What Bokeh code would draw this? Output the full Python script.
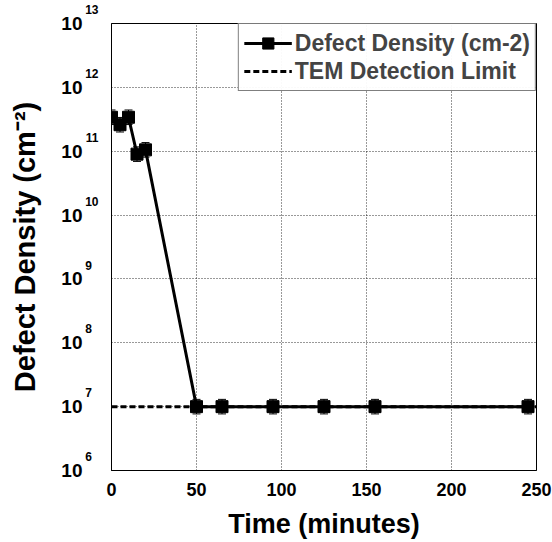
from bokeh.plotting import figure
from bokeh.models import (FixedTicker, ColumnDataSource, Whisker, Legend, LegendItem,
                          LogAxis, CustomJSTickFormatter)
from bokeh.embed import file_html
from bokeh.resources import INLINE

# Data
time_min = [0, 5, 10, 15, 20, 50, 65, 95, 125, 155, 245]
defect_density = [3.4e11, 2.6e11, 3.4e11, 9.0e10, 1.05e11, 1e7, 1e7, 1e7, 1e7, 1e7, 1e7]
err_factor = [1.3] * len(time_min)
tem_x = [0, 250]
tem_limit = [1e7, 1e7]
y_ticks = [1e6, 1e7, 1e8, 1e9, 1e10, 1e11, 1e12, 1e13]
x_ticks = [0, 50, 100, 150, 200, 250]

FONT = "Liberation Sans"

p = figure(width=552, height=542, y_axis_type="log",
           x_range=(0, 250), y_range=(1e6, 1e13),
           output_backend="svg", toolbar_location=None,
           min_border_left=111, min_border_right=16, min_border_top=23, min_border_bottom=72)

p.outline_line_color = "black"
p.outline_line_width = 1

src = ColumnDataSource(dict(
    x=time_min, y=defect_density,
    upper=[v * f for v, f in zip(defect_density, err_factor)],
    lower=[v / f for v, f in zip(defect_density, err_factor)],
))

tem = p.line(tem_x, tem_limit, line_color="black", line_width=3, line_dash="6 3")
ln = p.line("x", "y", source=src, line_color="black", line_width=3)
w = Whisker(source=src, base="x", upper="upper", lower="lower", line_color="black", line_width=1)
w.upper_head.size = 8
w.lower_head.size = 8
w.upper_head.line_width = 1
w.lower_head.line_width = 1
p.add_layout(w)
sc = p.scatter("x", "y", source=src, marker="square", size=12, fill_color="black", line_color="black")

legend = Legend(items=[
    LegendItem(label="Defect Density (cm-2)", renderers=[ln, sc]),
    LegendItem(label="TEM Detection Limit", renderers=[tem]),
], location="top_right")
legend.margin = 0
legend.border_line_color = "black"
legend.border_line_width = 1
legend.label_text_font = FONT
legend.label_text_font_style = "bold"
legend.label_text_font_size = "23px"
legend.glyph_width = 48
legend.label_standoff = 3
legend.spacing = 0
legend.padding = 5
legend.label_height = 28
legend.glyph_height = 28
p.add_layout(legend)

# x axis
p.xaxis.ticker = FixedTicker(ticks=x_ticks)
p.xaxis.axis_label = "Time (minutes)"
p.xaxis.axis_label_text_font_size = "27px"
p.xaxis.major_label_text_font_size = "18px"
p.xaxis.major_label_standoff = 12
p.xaxis.axis_label_standoff = 10

# inner y axis: superscript exponents (raised with extra empty lines)
p.yaxis.ticker = FixedTicker(ticks=y_ticks)
p.yaxis.formatter = CustomJSTickFormatter(code="""
let s = String(Math.round(Math.log10(tick)));
if (s.length < 2) { s = s + '\\u2007'; }
return s + '\\n\\u2007\\n\\u2007';
""")
p.yaxis.major_label_text_font_size = "12px"
p.yaxis.major_label_text_line_height = 0.95
p.yaxis.major_label_standoff = 13

# outer y axis: the "10" base and the axis title
base_axis = LogAxis(ticker=FixedTicker(ticks=y_ticks),
                    formatter=CustomJSTickFormatter(code="return '10';"))
base_axis.axis_line_color = None
base_axis.major_label_text_font_size = "19px"
base_axis.major_label_standoff = 0
base_axis.axis_label = "Defect Density (cm\u207b\u00b2)"
base_axis.axis_label_text_font_size = "29px"
base_axis.axis_label_standoff = 17
p.add_layout(base_axis, "left")

for ax in (p.xaxis[0], p.yaxis[0], base_axis):
    ax.major_tick_line_color = None
    ax.minor_tick_line_color = None
    ax.major_tick_out = 0
    ax.major_tick_in = 0
    ax.minor_tick_out = 0
    ax.minor_tick_in = 0
    ax.major_label_text_font = FONT
    ax.major_label_text_font_style = "bold"
    ax.major_label_text_color = "black"
    ax.axis_label_text_font = FONT
    ax.axis_label_text_font_style = "bold"
    ax.axis_label_text_color = "black"
p.xaxis.axis_line_color = "black"
p.yaxis[0].axis_line_color = "black"

for g in (p.xgrid, p.ygrid):
    g.grid_line_color = "black"
    g.grid_line_width = 1
    g.grid_line_dash = "1 2"
    g.grid_line_alpha = 0.8

open("out.html", "w").write(file_html(p, INLINE))
